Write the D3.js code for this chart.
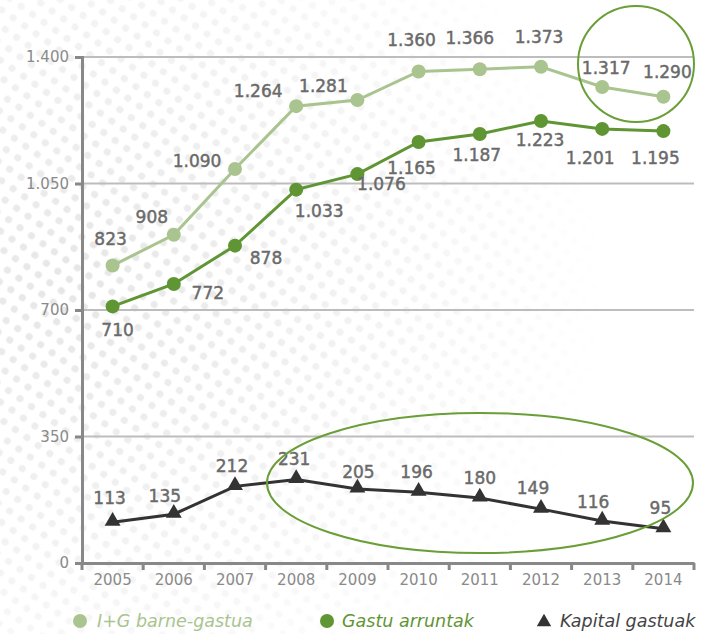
<!DOCTYPE html>
<html>
<head>
<meta charset="utf-8">
<script src="https://d3js.org/d3.v7.min.js"></script>
<style>
  body { margin: 0; background: #fff; }
  text { font-family: "DejaVu Sans", "Open Sans", sans-serif; }
  .tick-label { fill: #8a8a8a; font-size: 15px; }
  .val { fill: #6a6a6a; font-size: 17px; stroke: #6a6a6a; stroke-width: 0.45px; }
  .legend { font-size: 17.5px; font-style: italic; }
</style>
</head>
<body>
<svg width="716" height="634"></svg>
<script>
var years = [2005, 2006, 2007, 2008, 2009, 2010, 2011, 2012, 2013, 2014];
var totalSpend = [823, 908, 1090, 1264, 1281, 1360, 1366, 1373, 1317, 1290];   // I+G barne-gastua
var currentSpend = [710, 772, 878, 1033, 1076, 1165, 1187, 1223, 1201, 1195]; // Gastu arruntak
var capitalSpend = [113, 135, 212, 231, 205, 196, 180, 149, 116, 95];          // Kapital gastuak
var yTicks = [0, 350, 700, 1050, 1400];
var legendNames = ["I+G barne-gastua", "Gastu arruntak", "Kapital gastuak"];

// label offsets (layout only)
var totalOff = [[-2, -27], [-22, -18], [-38, -8], [-38, -15], [-34, -14], [-7, -31], [-10, -31], [-2, -30], [4, -19], [4, -25]];
var currentOff = [[5, 24], [34, 9], [31, 12], [23, 21], [24, 10], [-7, 26], [-3, 21], [-1, 19], [-12, 29], [-8, 27]];
var capOff = [[-3, -24], [-9, -18], [-3, -20], [-2, -21], [1, -17], [-2, -20], [0, -20], [-8, -21], [-9, -19], [-3, -21]];

var svg = d3.select("svg");
var fmt = d3.formatLocale({decimal: ",", thousands: ".", grouping: [3], currency: ["", ""]}).format(",d");

var light = "#a9c48f", dark = "#5f9533", black = "#333333", ring = "#6a9e36";

// faint halftone background
var defs = svg.append("defs");
var pat = defs.append("pattern").attr("id", "dots").attr("patternUnits", "userSpaceOnUse")
  .attr("width", 14).attr("height", 14).attr("patternTransform", "rotate(35)");
pat.append("circle").attr("cx", 7).attr("cy", 7).attr("r", 3.6).attr("fill", "#e6e6e6");
var grad = defs.append("radialGradient").attr("id", "fade").attr("cx", "0.1").attr("cy", "0.45").attr("r", "0.75");
grad.append("stop").attr("offset", "0").attr("stop-color", "#fff").attr("stop-opacity", 1);
grad.append("stop").attr("offset", "0.6").attr("stop-color", "#fff").attr("stop-opacity", 0.45);
grad.append("stop").attr("offset", "1").attr("stop-color", "#fff").attr("stop-opacity", 0);
defs.append("mask").attr("id", "bgmask").append("rect")
  .attr("width", 716).attr("height", 634).attr("fill", "url(#fade)");
svg.append("rect").attr("width", 716).attr("height", 634)
  .attr("fill", "url(#dots)").attr("mask", "url(#bgmask)");

var plotLeft = 82, plotRight = 694, plotTop = 57, plotBottom = 563;

var x = d3.scaleBand().domain(years).range([plotLeft, plotRight]).padding(0);
var cx = function(i) { return x(years[i]) + x.bandwidth() / 2; };
var y = d3.scaleLinear().domain([0, 1400]).range([plotBottom, plotTop]);

// grid
svg.append("g").selectAll("line").data(yTicks.filter(function(d) { return d > 0; }))
  .enter().append("line")
  .attr("x1", plotLeft).attr("x2", plotRight)
  .attr("y1", function(d) { return y(d); }).attr("y2", function(d) { return y(d); })
  .attr("stroke", "#bdbdbd").attr("stroke-width", 2);

// y axis
var yAxis = svg.append("g").attr("transform", "translate(" + plotLeft + ",0)")
  .call(d3.axisLeft(y).tickValues(yTicks).tickSize(7).tickFormat(fmt));
yAxis.select(".domain").attr("stroke", "#888").attr("stroke-width", 3);
yAxis.selectAll(".tick line").attr("stroke", "#888").attr("stroke-width", 3);
yAxis.selectAll(".tick text").attr("class", "tick-label").attr("x", -13).attr("font-size", null).attr("font-family", null).attr("fill", null);

// x axis
var xAxis = svg.append("g").attr("transform", "translate(0," + plotBottom + ")")
  .call(d3.axisBottom(x).tickSize(0).tickSizeOuter(0));
xAxis.select(".domain").attr("stroke", "#888").attr("stroke-width", 3);
xAxis.selectAll(".tick text").attr("class", "tick-label").attr("dy", "1.25em").attr("font-size", null).attr("font-family", null).attr("fill", null);
svg.append("g").selectAll("line").data(d3.range(years.length + 1)).enter().append("line")
  .attr("x1", function(i) { return plotLeft + i * x.bandwidth(); })
  .attr("x2", function(i) { return plotLeft + i * x.bandwidth(); })
  .attr("y1", plotBottom).attr("y2", plotBottom + 7)
  .attr("stroke", "#888").attr("stroke-width", 3);

var line = d3.line().x(function(d, i) { return cx(i); }).y(function(d) { return y(d); });

function drawSeries(vals, color, marker, offs) {
  svg.append("path").datum(vals).attr("d", line)
    .attr("fill", "none").attr("stroke", color).attr("stroke-width", 3);
  var g = svg.append("g");
  if (marker === "circle") {
    g.selectAll("circle").data(vals).enter().append("circle")
      .attr("cx", function(d, i) { return cx(i); })
      .attr("cy", function(d) { return y(d); })
      .attr("r", 7).attr("fill", color);
  } else {
    g.selectAll("path").data(vals).enter().append("path")
      .attr("d", d3.symbol().type(d3.symbolTriangle).size(110))
      .attr("transform", function(d, i) { return "translate(" + cx(i) + "," + (y(d) - 1) + ")"; })
      .attr("fill", color);
  }
  svg.append("g").selectAll("text").data(vals).enter().append("text")
    .attr("class", "val")
    .attr("text-anchor", "middle")
    .attr("dominant-baseline", "central")
    .attr("x", function(d, i) { return cx(i) + offs[i][0]; })
    .attr("y", function(d, i) { return y(d) + offs[i][1]; })
    .text(function(d) { return fmt(d); });
}

drawSeries(totalSpend, light, "circle", totalOff);
drawSeries(currentSpend, dark, "circle", currentOff);
drawSeries(capitalSpend, black, "triangle", capOff);

// highlight rings
svg.append("ellipse").attr("cx", 480).attr("cy", 483).attr("rx", 213).attr("ry", 70)
  .attr("fill", "none").attr("stroke", ring).attr("stroke-width", 2);
svg.append("ellipse").attr("cx", 636).attr("cy", 64).attr("rx", 58).attr("ry", 58)
  .attr("fill", "none").attr("stroke", ring).attr("stroke-width", 2);

// legend
var legendColors = [light, dark, black];
var legendTextColors = [light, dark, "#444"];
var legendX = [80, 327, 544];
var legendGap = [17, 15, 16];
var lg = svg.append("g");
legendNames.forEach(function(name, i) {
  if (i < 2) {
    lg.append("circle").attr("cx", legendX[i]).attr("cy", 621).attr("r", 7).attr("fill", legendColors[i]);
  } else {
    lg.append("path").attr("d", d3.symbol().type(d3.symbolTriangle).size(90))
      .attr("transform", "translate(" + legendX[i] + ",622)").attr("fill", legendColors[i]);
  }
  lg.append("text").attr("class", "legend")
    .attr("x", legendX[i] + legendGap[i]).attr("y", 621).attr("dominant-baseline", "central")
    .attr("fill", legendTextColors[i]).text(name);
});
</script>
</body>
</html>
